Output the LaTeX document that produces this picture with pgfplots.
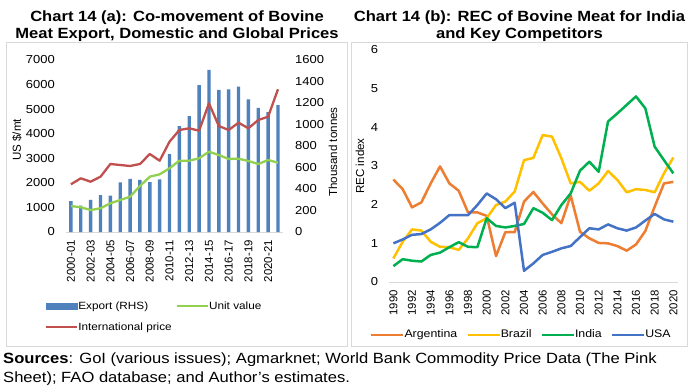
\documentclass[border=0pt]{standalone}
\usepackage{fontspec}
\setmainfont{Liberation Sans}[FakeStretch=1.12]
\newfontfamily\rotfont{Liberation Sans}
\usepackage{pgfplots}
\usepackage{pgfplotstable}
\pgfplotsset{compat=1.18}
\definecolor{barblue}{HTML}{4F81BD}
\definecolor{unitgreen}{HTML}{92D050}
\definecolor{intred}{HTML}{C0504D}
\definecolor{argor}{HTML}{ED7D31}
\definecolor{brayel}{HTML}{FFC000}
\definecolor{indgr}{HTML}{00B050}
\definecolor{usabl}{HTML}{4472C4}
\definecolor{axisgray}{HTML}{D9D9D9}
\definecolor{boxgray}{HTML}{D9D9D9}

\pgfplotstableread{
x exp unit intl
0 288 1058 1941
1 245 1005 2185
2 298 895 2047
3 344 964 2251
4 338 1168 2767
5 462 1302 2727
6 495 1437 2686
7 484 1872 2767
8 464 2251 3174
9 490 2348 2902
10 725 2592 3675
11 986 2902 4151
12 1079 2902 4220
13 1367 2999 4123
14 1507 3268 5237
15 1321 3134 4314
16 1327 2971 4151
17 1352 2983 4448
18 1234 2890 4220
19 1154 2767 4558
20 1115 2930 4692
21 1181 2820 5808
}\lefttab

\pgfplotstableread{
yr arg bra ind usa
1990 2.65 0.61 0.41 1.00
1991 2.40 1.04 0.59 1.10
1992 1.93 1.36 0.55 1.22
1993 2.06 1.33 0.53 1.24
1994 2.55 1.04 0.70 1.36
1995 2.99 0.91 0.76 1.53
1996 2.55 0.90 0.90 1.73
1997 2.36 0.83 1.03 1.73
1998 1.80 1.13 0.91 1.73
1999 1.80 1.52 0.90 1.99
2000 1.71 1.65 1.65 2.29
2001 0.67 1.99 1.45 2.14
2002 1.29 2.08 1.41 1.91
2003 1.29 2.34 1.45 2.05
2004 2.08 3.15 1.50 0.29
2005 2.33 3.21 1.91 0.48
2006 2.03 3.80 1.79 0.70
2007 1.75 3.76 1.60 0.78
2008 1.52 3.20 1.99 0.87
2009 2.24 2.55 2.29 0.93
2010 1.30 2.59 2.88 1.16
2011 1.13 2.36 3.11 1.39
2012 1.01 2.55 2.85 1.36
2013 1.00 2.87 4.15 1.49
2014 0.93 2.64 4.36 1.39
2015 0.81 2.32 4.58 1.33
2016 0.97 2.40 4.80 1.41
2017 1.32 2.38 4.49 1.59
2018 1.95 2.32 3.50 1.76
2019 2.55 2.81 3.15 1.62
2020 2.59 3.22 2.81 1.56
}\righttab

\pgfplotsset{
  every axis/.append style={
    scale only axis,
    /pgf/number format/assume math mode=true,
    /pgf/number format/1000 sep={},
    major tick length=0pt,
    tick label style={font=\fontsize{11.6}{13}\selectfont, inner sep=0pt},
  },
}

\begin{document}
\begin{tikzpicture}
\useasboundingbox (0,0) rectangle (690pt,391pt);

% panel boxes
\draw[boxgray, line width=0.8pt] (6.5pt,45pt) rectangle (347pt,348.3pt);
\draw[boxgray, line width=0.8pt] (351.5pt,45pt) rectangle (687.5pt,348.3pt);

% titles
\node[anchor=base, font=\bfseries\fontsize{14.8}{17}\selectfont] at (177pt,369.5pt) {Chart 14 (a): Co-movement of Bovine};
\node[anchor=base, font=\bfseries\fontsize{14.8}{17}\selectfont] at (177pt,352pt) {Meat Export, Domestic and Global Prices};
\node[anchor=base, font=\bfseries\fontsize{14.8}{17}\selectfont] at (519.5pt,369.5pt) {Chart 14 (b): REC of Bovine Meat for India};
\node[anchor=base, font=\bfseries\fontsize{14.8}{17}\selectfont] at (519.5pt,352pt) {and Key Competitors};

% ---- left chart: bars (RHS)
\begin{axis}[
  at={(66pt,159pt)}, anchor=south west, width=216.9pt, height=172pt,
  xmin=-0.5, xmax=21.5, ymin=0, ymax=1600,
  axis x line*=bottom, axis y line*=right,
  x axis line style={draw=axisgray, line width=0.8pt, -},
  y axis line style={draw=none},
  xtick={0,2,...,20},
  xticklabels={2000-01,2002-03,2004-05,2006-07,2008-09,2010-11,2012-13,2014-15,2016-17,2018-19,2020-21},
  x tick label style={rotate=90, anchor=east, font=\rotfont\fontsize{11.4}{13}\selectfont},
  xticklabel shift=8pt,
  ytick={0,200,...,1600},
  y tick label style={anchor=west},
  yticklabel shift=12pt,
  ylabel={Thousand tonnes},
  ylabel style={at={(axis description cs:1.231,0.465)}, anchor=center, font=\rotfont\fontsize{11.6}{13}\selectfont},
  ybar, bar width=3.4pt,
]
\addplot[fill=barblue, draw=none] table[x=x, y=exp] {\lefttab};
\end{axis}

% ---- left chart: lines (LHS)
\begin{axis}[
  at={(66pt,159pt)}, anchor=south west, width=216.9pt, height=172pt,
  xmin=-0.5, xmax=21.5, ymin=0, ymax=7000,
  axis x line=none, axis y line*=left,
  y axis line style={draw=none},
  xtick=\empty,
  ytick={0,1000,...,7000},
  y tick label style={anchor=east},
  yticklabel shift=11pt,
  ylabel={US \$/mt},
  ylabel style={at={(axis description cs:-0.226,0.535)}, anchor=center, font=\rotfont\fontsize{11.6}{13}\selectfont},
  legend image code/.code={\draw[#1] (0pt,0pt) -- (31pt,0pt);},
  legend columns=2,
  legend cell align=left,
  legend style={draw=none, fill=none, inner sep=0pt, outer sep=0pt,
    at={(-0.0968,-0.4924)}, anchor=west,
    font=\fontsize{10.5}{12}\selectfont,
    row sep=11pt, column sep=0pt,
    nodes={inner sep=0pt, text height=8pt, text depth=2pt},
    /tikz/every even column/.append style={column sep=4pt}},
]
\addlegendimage{legend image code/.code={\fill[barblue] (0pt,-2.8pt) rectangle (31pt,2.8pt);}}
\addlegendentry{Export (RHS)}
\addplot[unitgreen, line width=2.3pt, line join=round, no marks] table[x=x, y=unit] {\lefttab};
\addlegendentry{Unit value}
\addplot[intred, line width=2.3pt, line join=round, no marks] table[x=x, y=intl] {\lefttab};
\addlegendentry{International price}
\end{axis}

% ---- right chart
\begin{axis}[
  at={(388.7pt,109pt)}, anchor=south west, width=289.3pt, height=232pt,
  xmin=1989.5, xmax=2020.5, ymin=0, ymax=6,
  axis x line*=bottom, axis y line*=left,
  x axis line style={draw=axisgray, line width=0.8pt, -},
  y axis line style={draw=none},
  xtick={1990,1992,...,2020},
  x tick label style={rotate=90, anchor=east, font=\rotfont\fontsize{11.4}{13}\selectfont},
  xticklabel shift=8pt,
  ytick={0,1,...,6},
  y tick label style={anchor=east},
  yticklabel shift=10.5pt,
  ylabel={REC index},
  ylabel style={at={(axis description cs:-0.099,0.5)}, anchor=center, font=\rotfont\fontsize{11.6}{13}\selectfont},
  legend image code/.code={\draw[#1] (0pt,0pt) -- (32pt,0pt);},
  legend columns=4,
  legend cell align=left,
  legend style={draw=none, fill=none, inner sep=0pt, outer sep=0pt,
    at={(-0.0646,-0.228)}, anchor=west,
    font=\fontsize{11}{12}\selectfont,
    column sep=0pt,
    nodes={inner sep=0pt, text height=8pt, text depth=2pt},
    /tikz/every even column/.append style={column sep=9pt}},
]
\addplot[argor, line width=2.5pt, line join=round, no marks] table[x=yr, y=arg] {\righttab};
\addlegendentry{Argentina}
\addplot[brayel, line width=2.5pt, line join=round, no marks] table[x=yr, y=bra] {\righttab};
\addlegendentry{Brazil}
\addplot[indgr, line width=2.5pt, line join=round, no marks] table[x=yr, y=ind] {\righttab};
\addlegendentry{India}
\addplot[usabl, line width=2.5pt, line join=round, no marks] table[x=yr, y=usa] {\righttab};
\addlegendentry{USA}
\end{axis}

% sources
\node[anchor=base west, inner sep=0pt, font=\fontsize{14.8}{17}\selectfont] at (3pt,27.7pt) {\textbf{Sources}: GoI (various issues); Agmarknet; World Bank Commodity Price Data (The Pink};
\node[anchor=base west, inner sep=0pt, font=\fontsize{14.8}{17}\selectfont] at (3pt,8.3pt) {Sheet); FAO database; and Author’s estimates.};
\end{tikzpicture}
\end{document}
